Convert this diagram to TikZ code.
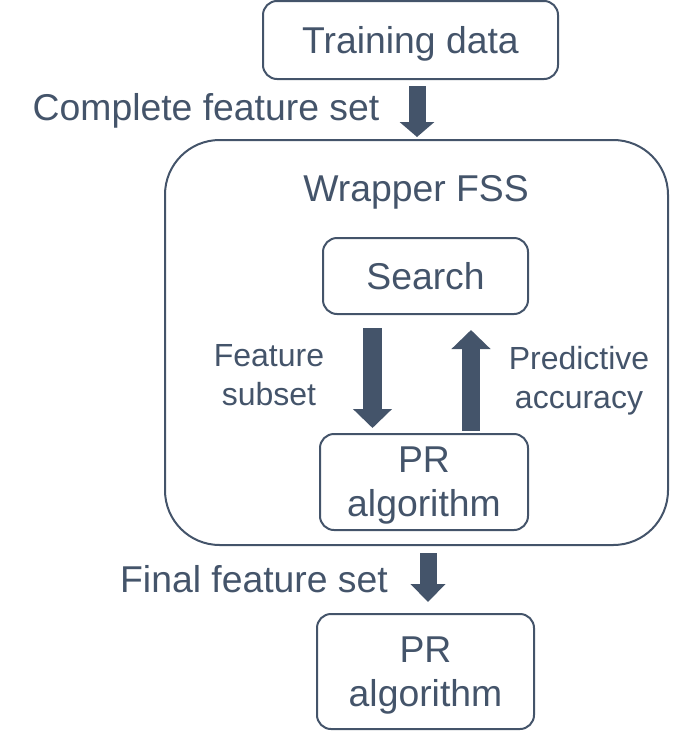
\documentclass[tikz,border=0pt]{standalone}
\usepackage{fontspec}
\setmainfont{Liberation Sans}
\usetikzlibrary{arrows.meta,calc}
\definecolor{slate}{HTML}{44546A}
\begin{document}
\begin{tikzpicture}[x=0.75pt,y=-0.75pt,
  box/.style={draw=slate,line width=1.5pt,rounded corners=10.5pt,align=center,text=slate,
    font=\fontsize{28}{33}\selectfont,inner sep=0pt},
  lbl/.style={text=slate,font=\fontsize{28}{33}\selectfont,inner sep=0pt},
  slbl/.style={text=slate,font=\fontsize{24}{29.5}\selectfont,align=center,inner sep=0pt},
  fatarrow/.style={draw=slate,line width=#1,line cap=butt},
]
\useasboundingbox (0,0) rectangle (693,739);
\node[box,minimum width=221.25pt,minimum height=58.5pt,text depth=0pt] (tdata) at (410.5,40) {Training data};
\node[box,minimum width=377.25pt,minimum height=303.75pt,rounded corners=41pt] (big) at (416.5,342.5) {};
\node[lbl] (wrap) at (416,192) {Wrapper FSS};
\node[box,minimum width=153.75pt,minimum height=57pt] (search) at (425.5,276) {Search};
\node[box,minimum width=156pt,minimum height=72pt,text depth=-8pt] (pr1) at (424,482) {PR\\algorithm};
\node[box,minimum width=162.75pt,minimum height=86.25pt,text depth=-8pt] (pr2) at (425.5,671.5) {PR\\algorithm};
\node[lbl] (cfs) at (206,111) {Complete feature set};
\node[lbl] (ffs) at (254,579) {Final feature set};
\node[slbl] (fsub) at (269,375) {Feature\\subset};
\node[slbl] (pacc) at (579,381) {Predictive\\accuracy};
% fat arrows
\draw[fatarrow=12.75pt,-{Triangle[width=25.5pt,length=11.25pt]},slate]
  ($(big.north)+(0.5,-53)$) -- ($(big.north)+(0.5,-2)$);
\draw[fatarrow=14.25pt,-{Triangle[width=28.5pt,length=14.25pt]},slate]
  ($(search.south)+(-53,13)$) -- ($(pr1.north)+(-51.5,-5)$);
\draw[fatarrow=13.5pt,-{Triangle[width=28.5pt,length=14.25pt]},slate]
  ($(pr1.north)+(47,-2)$) -- ($(search.south)+(45.5,15)$);
\draw[fatarrow=12.75pt,-{Triangle[width=25.5pt,length=13.5pt]},slate]
  ($(big.south)+(11.5,7)$) -- ($(pr2.north)+(2.5,-11)$);
\end{tikzpicture}
\end{document}
